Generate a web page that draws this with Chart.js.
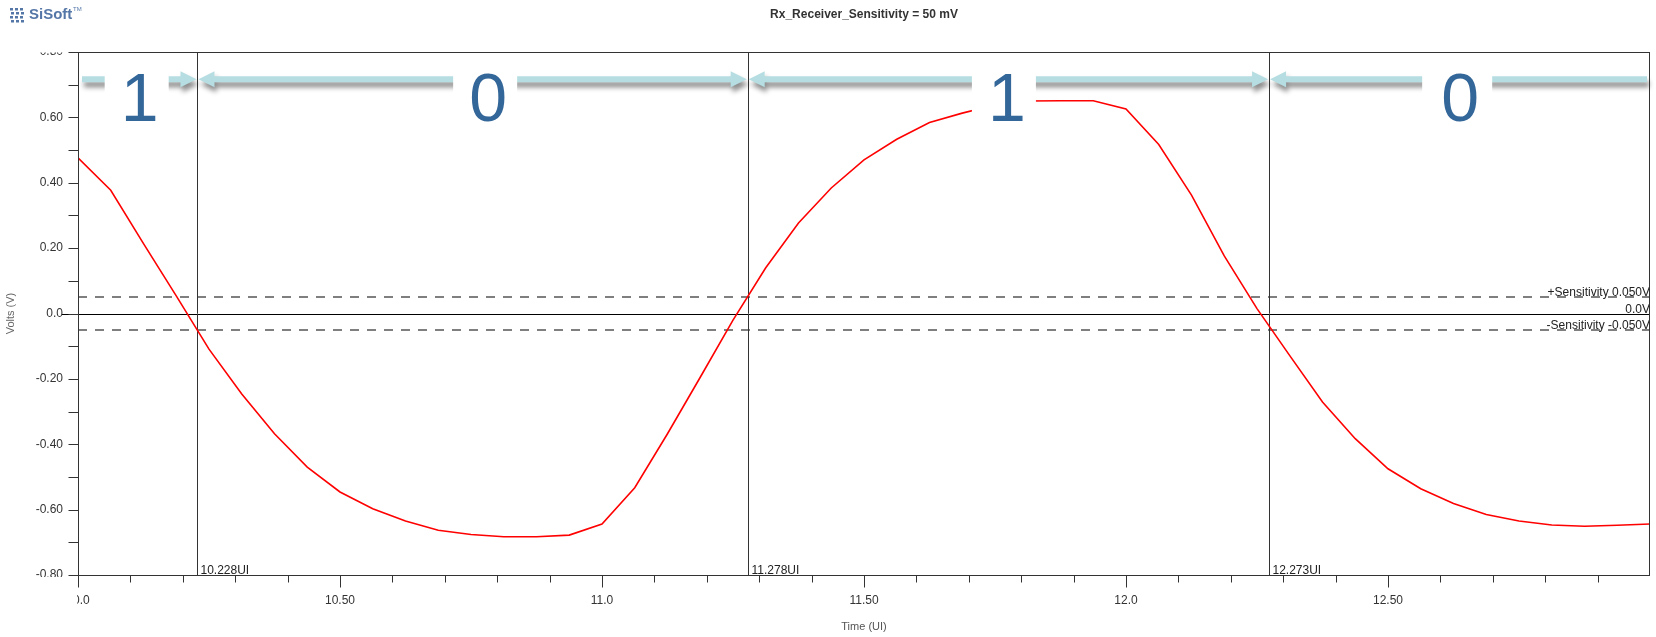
<!DOCTYPE html>
<html>
<head>
<meta charset="utf-8">
<title>Rx_Receiver_Sensitivity</title>
<script src="https://cdn.jsdelivr.net/npm/chart.js@4.4.1/dist/chart.umd.min.js"></script>
<style>
  html, body { margin: 0; padding: 0; background: #fff; }
</style>
</head>
<body>
<canvas id="rxChart" width="1656" height="637"></canvas>
<script>
// waveform samples (UI, volts)
const timeUI = [
  10.0, 10.0625, 10.125, 10.1875, 10.25, 10.3125, 10.375, 10.4375,
  10.5, 10.5625, 10.625, 10.6875, 10.75, 10.8125, 10.875, 10.9375,
  11.0, 11.0625, 11.125, 11.1875, 11.25, 11.3125, 11.375, 11.4375,
  11.5, 11.5625, 11.625, 11.6875, 11.75, 11.8125, 11.875, 11.9375,
  12.0, 12.0625, 12.125, 12.1875, 12.25, 12.3125, 12.375, 12.4375,
  12.5, 12.5625, 12.625, 12.6875, 12.75, 12.8125, 12.875, 12.9375, 13.0
];
const voltage = [
  0.476, 0.377, 0.214, 0.054, -0.109, -0.246, -0.368, -0.470,
  -0.546, -0.597, -0.635, -0.663, -0.676, -0.683, -0.683, -0.678,
  -0.644, -0.533, -0.368, -0.195, -0.020, 0.140, 0.277, 0.384,
  0.470, 0.533, 0.584, 0.613, 0.638, 0.650, 0.651, 0.651,
  0.626, 0.517, 0.362, 0.176, 0.015, -0.129, -0.271, -0.383,
  -0.475, -0.536, -0.581, -0.615, -0.635, -0.647, -0.651, -0.648, -0.644
];

const xMajorTicks = [10.0, 10.5, 11.0, 11.5, 12.0, 12.5];
const xTickLabels = ['10.0', '10.50', '11.0', '11.50', '12.0', '12.50'];
const yMajorTicks = [0.8, 0.6, 0.4, 0.2, 0.0, -0.2, -0.4, -0.6, -0.8];
const yTickLabels = ['0.80', '0.60', '0.40', '0.20', '0.0', '-0.20', '-0.40', '-0.60', '-0.80'];

// bit boundaries and decoded bits
const bitEdges = [10.0, 10.228, 11.278, 12.273, 13.0];
const bitValues = ['1', '0', '1', '0'];
const markerTimes = [10.228, 11.278, 12.273];
const markerLabels = ['10.228UI', '11.278UI', '12.273UI'];

const refLevels = [0.05, 0.0, -0.05];
const refLabels = ['+Sensitivity 0.050V', '0.0V', '-Sensitivity -0.050V'];

// annotation placement
const bitLabelAt = [10.112, 10.777, 11.767, 12.632];
const arrowLevel = 0.717;

const FONT = 'Arial, "Liberation Sans", sans-serif';

function drawArrow(ctx, x1, x2, y, headLeft, headRight) {
  const t = 3, hl = 16, hh = 8;
  ctx.beginPath();
  if (headLeft) {
    ctx.moveTo(x1, y);
    ctx.lineTo(x1 + hl, y - hh);
    ctx.lineTo(x1 + hl, y - t);
  } else {
    ctx.moveTo(x1, y - t);
  }
  if (headRight) {
    ctx.lineTo(x2 - hl, y - t);
    ctx.lineTo(x2 - hl, y - hh);
    ctx.lineTo(x2, y);
    ctx.lineTo(x2 - hl, y + hh);
    ctx.lineTo(x2 - hl, y + t);
  } else {
    ctx.lineTo(x2, y - t);
    ctx.lineTo(x2, y + t);
  }
  if (headLeft) {
    ctx.lineTo(x1 + hl, y + t);
    ctx.lineTo(x1 + hl, y + hh);
  } else {
    ctx.lineTo(x1, y + t);
  }
  ctx.closePath();
  ctx.fill();
}

const referenceLines = {
  id: 'referenceLines',
  beforeDatasetsDraw(chart) {
    const { ctx, chartArea: a, scales: { x, y } } = chart;
    ctx.save();
    // sensitivity thresholds
    ctx.strokeStyle = '#7f7f7f';
    ctx.lineWidth = 2;
    ctx.setLineDash([9, 8]);
    [refLevels[0], refLevels[2]].forEach(v => {
      const py = Math.round(y.getPixelForValue(v));
      ctx.beginPath();
      ctx.moveTo(a.left, py);
      ctx.lineTo(a.right, py);
      ctx.stroke();
    });
    ctx.setLineDash([]);
    // zero line
    const y0 = Math.round(y.getPixelForValue(0)) + 0.5;
    ctx.strokeStyle = '#000';
    ctx.lineWidth = 1;
    ctx.beginPath();
    ctx.moveTo(a.left - 16, y0);
    ctx.lineTo(a.right, y0);
    ctx.stroke();
    // UI markers
    ctx.strokeStyle = '#333';
    ctx.font = '12px ' + FONT;
    ctx.fillStyle = '#222';
    ctx.textAlign = 'left';
    ctx.textBaseline = 'alphabetic';
    markerTimes.forEach((t, i) => {
      const px = Math.round(x.getPixelForValue(t)) + 0.5;
      ctx.beginPath();
      ctx.moveTo(px, a.top);
      ctx.lineTo(px, a.bottom);
      ctx.stroke();
      ctx.fillText(markerLabels[i], px + 3, a.bottom - 1);
    });
    // threshold labels
    ctx.textAlign = 'right';
    refLevels.forEach((v, i) => {
      const py = Math.round(y.getPixelForValue(v));
      ctx.fillText(refLabels[i], a.right, py - 1);
    });
    ctx.restore();
  }
};

const bitAnnotations = {
  id: 'bitAnnotations',
  afterDatasetsDraw(chart) {
    const { ctx, chartArea: a, scales: { x, y } } = chart;
    const ay = y.getPixelForValue(arrowLevel);
    ctx.save();
    ctx.fillStyle = '#b6dee2';
    ctx.shadowColor = 'rgba(0,0,0,0.45)';
    ctx.shadowBlur = 5;
    ctx.shadowOffsetX = 2;
    ctx.shadowOffsetY = 5;
    for (let i = 0; i < bitValues.length; i++) {
      const first = i === 0, last = i === bitValues.length - 1;
      const x1 = first ? a.left + 4 : x.getPixelForValue(bitEdges[i]) + 1;
      const x2 = last ? a.right - 3 : x.getPixelForValue(bitEdges[i + 1]) - 1;
      drawArrow(ctx, x1, x2, ay, !first, !last);
    }
    ctx.restore();

    ctx.save();
    ctx.font = '68px ' + FONT;
    ctx.textAlign = 'center';
    ctx.textBaseline = 'alphabetic';
    bitValues.forEach((b, i) => {
      const cx = x.getPixelForValue(bitLabelAt[i]);
      const w = b === '0' && i === bitValues.length - 1 ? 70 : 64;
      ctx.fillStyle = '#fff';
      ctx.fillRect(cx - w / 2, ay - 14, w, 48);
      ctx.fillStyle = '#336699';
      ctx.fillText(b, cx + 3, ay + 42);
    });
    ctx.restore();
  }
};

const frameAndTicks = {
  id: 'frameAndTicks',
  afterDraw(chart) {
    const { ctx, chartArea: a, scales: { x, y } } = chart;
    ctx.save();
    // masks where the original tool clips the end labels
    ctx.fillStyle = '#fff';
    ctx.fillRect(20, 38, 50, a.top - 37.5);
    ctx.fillRect(20, a.bottom + 2, 46, 14);
    ctx.fillRect(40, a.bottom + 8, a.left - 41, 30);

    ctx.strokeStyle = '#333';
    ctx.lineWidth = 1;
    const L = Math.round(a.left) + 0.5, R = Math.round(a.right) - 0.5;
    const T = Math.round(a.top) + 0.5, B = Math.round(a.bottom) + 0.5;
    ctx.strokeRect(L, T, R - L, B - T);
    ctx.beginPath();
    for (let k = -8; k <= 8; k++) {
      const py = Math.round(y.getPixelForValue(k / 10)) + 0.5;
      ctx.moveTo(L - 10, py);
      ctx.lineTo(L, py);
    }
    for (let k = 0; k < 30; k++) {
      const px = Math.round(x.getPixelForValue(10 + k / 10)) + 0.5;
      const len = k % 5 === 0 ? 12 : 7;
      ctx.moveTo(px, B);
      ctx.lineTo(px, B + len);
    }
    ctx.stroke();

    // header
    ctx.fillStyle = '#333';
    ctx.font = 'bold 12px ' + FONT;
    ctx.textAlign = 'center';
    ctx.textBaseline = 'middle';
    ctx.fillText('Rx_Receiver_Sensitivity = 50 mV', (a.left + a.right) / 2, 15);

    // logo
    ctx.fillStyle = '#5577a8';
    for (let c = 0; c < 3; c++) {
      for (let r = 0; r < 4; r++) {
        ctx.fillRect(10 + c * 5 + (r % 2), 8 + r * 4, 3, 2.5);
      }
    }
    ctx.font = 'bold 15px ' + FONT;
    ctx.textAlign = 'left';
    ctx.fillText('SiSoft', 29, 15);
    ctx.font = '6px ' + FONT;
    ctx.fillText('TM', 73, 9);
    ctx.restore();
  }
};

const ctx = document.getElementById('rxChart').getContext('2d');
const rxChart = new Chart(ctx, {
  type: 'line',
  data: {
    datasets: [{
      label: 'Rx',
      data: timeUI.map((t, i) => ({ x: t, y: voltage[i] })),
      borderColor: 'rgb(255, 0, 0)',
      borderWidth: 1.6,
      pointRadius: 0,
      tension: 0
    }]
  },
  options: {
    responsive: false,
    animation: false,
    events: [],
    layout: { padding: { top: 52, right: 6, left: 0, bottom: 0 } },
    plugins: {
      legend: { display: false },
      tooltip: { enabled: false }
    },
    scales: {
      x: {
        type: 'linear',
        min: 10,
        max: 13,
        afterFit: (s) => { s.height = 62; },
        afterBuildTicks: (s) => { s.ticks = xMajorTicks.map(v => ({ value: v })); },
        grid: { display: false, drawTicks: false },
        border: { display: false },
        ticks: {
          autoSkip: false,
          maxRotation: 0,
          padding: 18,
          color: '#333',
          font: { size: 12, family: FONT },
          callback: (v, i) => xTickLabels[i]
        },
        title: {
          display: true,
          text: 'Time (UI)',
          color: '#555',
          font: { size: 11, family: FONT },
          padding: { top: 0, bottom: 3 }
        }
      },
      y: {
        type: 'linear',
        min: -0.8,
        max: 0.8,
        afterFit: (s) => { s.width = 78; },
        afterBuildTicks: (s) => { s.ticks = yMajorTicks.map(v => ({ value: v })); },
        grid: { display: false, drawTicks: false },
        border: { display: false },
        ticks: {
          padding: 15,
          color: '#333',
          font: { size: 12, family: FONT },
          callback: (v, i) => yTickLabels[i]
        },
        title: {
          display: true,
          text: 'Volts (V)',
          color: '#666',
          font: { size: 11, family: FONT },
          padding: 4
        }
      }
    }
  },
  plugins: [referenceLines, bitAnnotations, frameAndTicks]
});
</script>
</body>
</html>
